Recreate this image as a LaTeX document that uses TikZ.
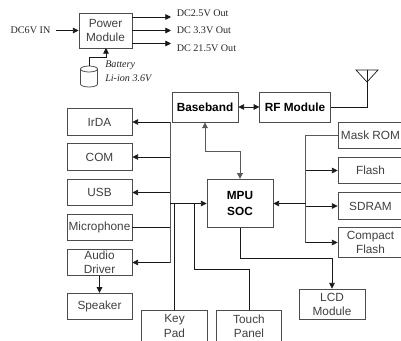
\documentclass[tikz,border=0pt]{standalone}
\usepackage{fontspec}
\setmainfont{Liberation Serif}
\setsansfont{Liberation Sans}
\usetikzlibrary{arrows.meta}

\tikzset{
	>={Triangle[length=4pt,width=4pt]},
	wire/.style={line width=0.5pt, black!90},
	bus/.style={line width=0.7pt, black!65},
	block/.style={draw=black!70, line width=0.65pt, inner sep=0pt, align=center, text=black!75,
		font=\sffamily\fontsize{8.4}{10}\selectfont},
	ioblock/.style={block, minimum width=1.625cm, minimum height=0.66cm},
	memblock/.style={block, minimum width=1.625cm, minimum height=0.66cm},
	boldblock/.style={block, text=black, font=\sffamily\bfseries\fontsize{8.4}{11.5}\selectfont},
	outlabel/.style={inner sep=0pt, anchor=west, text=black!85, font=\fontsize{7.2}{8}\selectfont},
	battlabel/.style={inner sep=0pt, anchor=west, text=black!85, font=\itshape\fontsize{7.2}{8}\selectfont},
}

\begin{document}
\begin{tikzpicture}[x=0.025cm, y=-0.025cm]

	\useasboundingbox (0, 0) rectangle (401, 341);
	\clip (0, 0) rectangle (401, 341);

	%%%%%%%%%%%%%%%%%%%%%%%%%%%%%%%% power
	\node [block, minimum width=1.325cm, minimum height=0.875cm] (power) at (105.5, 30.5) {Power\\Module};
	\node [outlabel, anchor=center] (dcin) at (30.5, 30.5) {DC6V IN};
	\node [outlabel] (outa) at (176.5, 13) {DC2.5V Out};
	\node [outlabel] (outb) at (176.5, 30.5) {DC 3.3V Out};
	\node [outlabel] (outc) at (176.5, 48) {DC 21.5V Out};
	\node [battlabel] (batta) at (105, 65.5) {Battery};
	\node [battlabel] (battb) at (105, 78) {Li-ion 3.6V};

	% battery can
	\draw [draw=black!70, line width=0.55pt] (89, 69) ellipse [x radius=8.5, y radius=3];
	\draw [draw=black!70, line width=0.55pt] (80.5, 69) -- (80.5, 84) arc [start angle=180, end angle=0, x radius=8.5, y radius=3] -- (97.5, 69);
	\coordinate (batt) at (89, 66);

	\coordinate (outastart) at (132, 17);
	\coordinate (outcstart) at (132, 43.5);
	\coordinate (battend) at (106, 48);
	\draw [->, wire] (dcin.east) ++(5, 0) -- (power.west);
	\draw [->, wire] (outastart) -- (171, 17);
	\draw [->, wire] (power.east) -- (171, 30.5);
	\draw [->, wire] (outcstart) -- (171, 43.5);
	\draw [->, wire] (batt) -- (89, 57) -| (battend);

	%%%%%%%%%%%%%%%%%%%%%%%%%%%%%%%% radio
	\node [boldblock, minimum width=1.65cm, minimum height=0.75cm] (baseband) at (205, 107) {Baseband};
	\node [boldblock, minimum width=1.76cm, minimum height=0.75cm] (rf) at (295, 107) {RF Module};
	\coordinate (anttop) at (367, 70);
	\coordinate (antleft) at (356, 70);
	\coordinate (antright) at (378, 70);
	\coordinate (anttip) at (367, 82);

	\draw [<->, wire] (baseband.east) -- (rf.west);
	\draw [wire] (rf.east) -| (anttop);
	\draw [wire] (antleft) -- (antright) -- (anttip) -- cycle;

	%%%%%%%%%%%%%%%%%%%%%%%%%%%%%%%% left column
	\node [ioblock] (irda) at (99.5, 122) {IrDA};
	\node [ioblock] (com) at (99.5, 157) {COM};
	\node [ioblock] (usb) at (99.5, 192.5) {USB};
	\node [ioblock] (mic) at (99.5, 227.5) {Microphone};
	\node [ioblock] (audio) at (99.5, 262.5) {Audio\\Driver};
	\node [ioblock] (speaker) at (99.5, 306.5) {Speaker};

	\node [boldblock, minimum width=1.65cm, minimum height=1.21cm] (mpu) at (240, 203.5) {MPU\\SOC};

	\coordinate (busbottom) at (170, 262.5);
	\coordinate (busmpu) at (170, 203.5);
	\coordinate (keytap) at (174.5, 203.5);
	\coordinate (touchtap) at (194, 203.5);
	\coordinate (busbase) at (205, 151);

	\draw [bus] (170, 122) -- (busbottom);
	\draw [->, wire] (170, 122) -- (irda.east);
	\draw [->, wire] (170, 157) -- (com.east);
	\draw [->, wire] (170, 192.5) -- (usb.east);
	\draw [wire] (170, 227.5) -- (mic.east);
	\draw [->, wire] (busbottom) -- (audio.east);
	\draw [->, wire] (audio.south) -- (speaker.north);
	\draw [->, wire] (busmpu) -- (mpu.west);

	\draw [<->, bus] (baseband.south) -- (busbase) -| (mpu.north);

	%%%%%%%%%%%%%%%%%%%%%%%%%%%%%%%% bottom row
	\node [block, minimum width=1.64cm, minimum height=0.8cm] (keypad) at (174.5, 326) {Key\\Pad};
	\node [block, minimum width=1.64cm, minimum height=0.8cm] (touch) at (249, 326) {Touch\\Panel};
	\node [block, minimum width=1.65cm, minimum height=0.75cm] (lcd) at (332, 304) {LCD\\Module};

	\draw [wire] (keytap) -- (keypad.north);
	\draw [wire] (touchtap) -- (194, 269) -| (touch.north);
	\draw [->, wire] (mpu.south) -- (240, 258) -| (lcd.north);

	%%%%%%%%%%%%%%%%%%%%%%%%%%%%%%%% right column
	\node [memblock] (rom) at (370.5, 135.5) {Mask ROM};
	\node [memblock] (flash) at (370.5, 170.5) {Flash};
	\node [memblock] (sdram) at (370.5, 206) {SDRAM};
	\node [memblock, minimum height=0.77cm] (cflash) at (370.5, 242.5) {Compact\\Flash};

	\coordinate (memtop) at (305.5, 135.5);
	\coordinate (membottom) at (305.5, 242.5);

	\draw [bus] (rom.west) -- (memtop) -- (membottom);
	\draw [->, wire] (305.5, 170.5) -- (flash.west);
	\draw [->, wire] (305.5, 206) -- (sdram.west);
	\draw [->, wire] (membottom) -- (cflash.west);
	\draw [->, wire] (305.5, 203.5) -- (mpu.east);

\end{tikzpicture}
\end{document}
